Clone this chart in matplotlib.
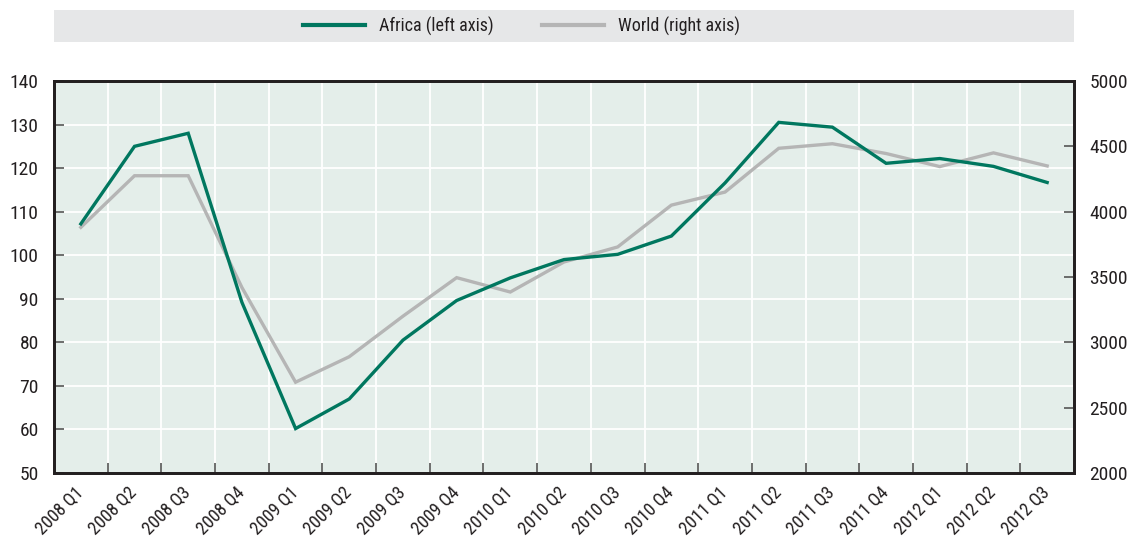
import matplotlib
matplotlib.use("Agg")
import matplotlib.pyplot as plt
from matplotlib.patches import Rectangle
from matplotlib.lines import Line2D
from matplotlib.transforms import ScaledTranslation
import matplotlib.font_manager as fm

quarters = ["2008 Q1", "2008 Q2", "2008 Q3", "2008 Q4",
            "2009 Q1", "2009 Q2", "2009 Q3", "2009 Q4",
            "2010 Q1", "2010 Q2", "2010 Q3", "2010 Q4",
            "2011 Q1", "2011 Q2", "2011 Q3", "2011 Q4",
            "2012 Q1", "2012 Q2", "2012 Q3"]
africa = [107.2, 125.0, 128.0, 89.2, 60.2, 67.0, 80.5, 89.6, 94.8, 99.0, 100.2,
          104.4, 116.6, 130.5, 129.4, 121.1, 122.2, 120.4, 116.7]
world = [3880, 4275, 4275, 3420, 2695, 2890, 3200, 3495, 3385, 3615, 3730,
         4050, 4150, 4485, 4520, 4445, 4345, 4450, 4350]
left_ticks = [50, 60, 70, 80, 90, 100, 110, 120, 130, 140]
right_ticks = [2000, 2500, 3000, 3500, 4000, 4500, 5000]

names = {f.name for f in fm.fontManager.ttflist}
fam = "Liberation Sans"
for cand in ["Liberation Sans Narrow", "Roboto Condensed", "Open Sans Condensed",
             "DejaVu Sans Condensed", "Noto Sans Condensed"]:
    if cand in names:
        fam = cand
        break
plt.rcParams['font.family'] = [fam, 'DejaVu Sans']

GREEN = "#00775F"
GREY = "#B5B5B5"
TXT = "#231F20"
BG = "#E4EEEA"
FS = 14

W, H = 1136, 542
fig = plt.figure(figsize=(W / 100, H / 100), dpi=100)
L, R, T, B = 54, 1074, 81, 473
ax = fig.add_axes([L / W, 1 - B / H, (R - L) / W, (B - T) / H])
ax2 = ax.twinx()

ax.set_facecolor(BG)
x = list(range(len(quarters)))
ax.set_xlim(-0.5, len(quarters) - 0.5)
ax.set_ylim(50, 140)
ax2.set_ylim(2000, 5000)
ax.set_yticks(left_ticks)
ax2.set_yticks(right_ticks)

ax2.plot(x, world, color=GREY, lw=2.4, zorder=2, solid_joinstyle='miter')
# Africa is drawn in left-axis units, on the twin so it sits above World
ax2.plot(x, africa, color=GREEN, lw=2.4, zorder=3, solid_joinstyle='miter',
         transform=ax.transData)

ax.set_xticks(x)
ax.set_xticklabels(quarters, rotation=45, ha='right', va='center',
                   rotation_mode='anchor', fontsize=13, color=TXT)
shift = ScaledTranslation(8 / 100, -6 / 100, fig.dpi_scale_trans)
for lab in ax.get_xticklabels():
    lab.set_transform(lab.get_transform() + shift)
ax.tick_params(axis='x', length=0, pad=12)
ax.set_xticks([i + 0.5 for i in x[:-1]], minor=True)
ax.tick_params(axis='x', which='minor', direction='in', length=7, width=1.2, color="#555555")

ax.tick_params(axis='y', direction='in', length=7, width=1.2, labelsize=FS,
               labelcolor=TXT, color="#555555", pad=11)
ax2.tick_params(axis='y', direction='in', length=7, width=1.2, labelsize=FS,
                labelcolor=TXT, color="#555555", pad=11)

ax.grid(True, which='major', axis='y', color='white', lw=1.3, zorder=0)
ax.grid(True, which='minor', axis='x', color='white', lw=1.3, zorder=0)
ax.set_axisbelow(True)

for a in (ax, ax2):
    for s in a.spines.values():
        s.set_color(TXT)
        s.set_linewidth(2)

# legend box
fig.patches.append(Rectangle((L / W, 1 - 42 / H), (R - L) / W, 32 / H,
                             transform=fig.transFigure, facecolor="#E6E7E8",
                             edgecolor='none', zorder=0))
handles = [Line2D([], [], color=GREEN, lw=3), Line2D([], [], color=GREY, lw=3)]
fig.legend(handles, ["Africa (left axis)", "World (right axis)"], ncol=2,
           loc='center', bbox_to_anchor=(521.5 / W, 1 - 26 / H),
           frameon=False, fontsize=13, handlelength=3.43, handletextpad=0.78,
           columnspacing=2.66, labelcolor=TXT)

fig.savefig("out.png", dpi=100)
